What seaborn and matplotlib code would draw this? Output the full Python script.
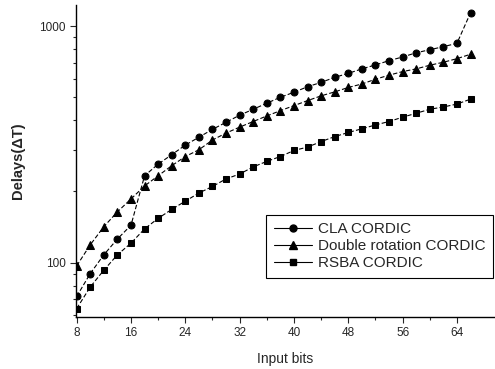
import numpy as np
import pandas as pd
import matplotlib
matplotlib.use("Agg")
import matplotlib.pyplot as plt
import seaborn as sns
from matplotlib.lines import Line2D
from matplotlib.ticker import FixedLocator, NullFormatter

### Dados
bits = list(range(8, 67, 2))
cla = [72, 90, 108, 126, 144, 233, 261, 286, 314, 339,
       366, 392, 420, 445, 472, 500, 525, 554, 578, 607,
       631, 659, 685, 714, 740, 771, 794, 818, 845, 1138]
dupla = [97, 119, 142, 164, 186, 211, 233, 257, 281, 300,
         330, 353, 374, 395, 417, 439, 461, 484, 507, 527,
         550, 569, 596, 620, 642, 659, 683, 703, 728, 760]
rsba = [64, 79, 93, 108, 121, 139, 154, 168, 182, 197,
        210, 226, 237, 254, 268, 281, 298, 308, 325, 341,
        355, 368, 382, 395, 412, 428, 445, 455, 468, 491]
nomes = ["CLA CORDIC", "Double rotation CORDIC", "RSBA CORDIC"]
marcadores = ["o", "^", "s"]
tamanhos = [5, 6, 4.5]

dados = pd.DataFrame({"bits": bits, nomes[0]: cla, nomes[1]: dupla, nomes[2]: rsba})

sns.set_style("ticks")
plt.rcParams["font.family"] = ["Liberation Sans", "DejaVu Sans"]

fig = plt.figure(figsize=(4.95, 3.69), dpi=100)
ax = fig.add_axes([0.1535, 0.141, 0.8465, 0.8455])

for nome, mk, ms in zip(nomes, marcadores, tamanhos):
    sns.lineplot(data=dados, x="bits", y=nome, ax=ax, color="black",
                 marker=mk, markersize=ms, markeredgecolor="black",
                 linewidth=0.8, dashes=False, legend=False)
for ln in ax.get_lines():
    ln.set_linestyle((0, (4, 2)))

ax.set_yscale("log")
ax.set_ylim(59, 1227)
ax.set_xlim(7.9, 69.6)
ax.set_xticks(range(8, 68, 8))
ax.xaxis.set_minor_locator(FixedLocator(range(12, 68, 8)))
ax.set_yticks([100, 1000])
ax.set_yticklabels(["100", "1000"])
ax.yaxis.set_minor_locator(FixedLocator([60, 70, 80, 90, 200, 300, 400, 500, 600, 700, 800, 900]))
ax.yaxis.set_minor_formatter(NullFormatter())
ax.tick_params(axis="both", which="major", length=4, width=0.8, labelsize=8.5, direction="out")
ax.tick_params(axis="both", which="minor", length=2.5, width=0.8, direction="out")

for s in ["top", "right"]:
    ax.spines[s].set_visible(False)
for s in ["left", "bottom"]:
    ax.spines[s].set_linewidth(1.0)
    ax.spines[s].set_color("black")

ax.set_xlabel("Input bits", fontsize=10, labelpad=9)
ax.set_ylabel("Delays(\u0394T)", fontsize=10.5, fontweight="bold", labelpad=10)

alcas = [Line2D([], [], color="black", marker=mk, markersize=ms, linewidth=0.8)
         for mk, ms in zip(marcadores, tamanhos)]
leg = ax.legend(alcas, nomes, loc="lower right", bbox_to_anchor=(0.995, 0.125),
                fontsize=11, frameon=True, fancybox=False, framealpha=1,
                edgecolor="black", handlelength=2.5, labelspacing=0.2,
                borderpad=0.5, handletextpad=0.35, borderaxespad=0)
leg.get_frame().set_linewidth(0.8)

fig.savefig("out.png", dpi=100)
